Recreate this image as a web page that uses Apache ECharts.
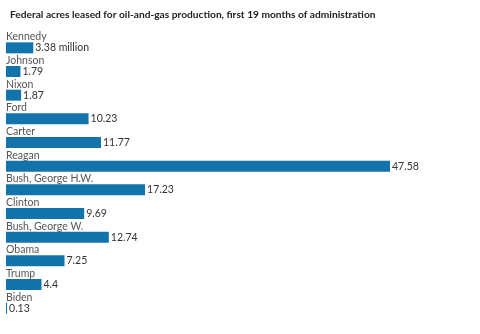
<!DOCTYPE html>
<html><head><meta charset="utf-8">
<script src="https://cdn.jsdelivr.net/npm/echarts@6/dist/echarts.min.js"></script>
<style>html,body{margin:0;padding:0;background:#fff}#c{width:480px;height:334px}</style>
</head><body><div id="c"></div>
<script>
const categories = ["Kennedy","Johnson","Nixon","Ford","Carter","Reagan","Bush, George H.W.","Clinton","Bush, George W.","Obama","Trump","Biden"];
const values = [3.38,1.79,1.87,10.23,11.77,47.58,17.23,9.69,12.74,7.25,4.4,0.13];
const valueLabels = ["3.38 million","1.79","1.87","10.23","11.77","47.58","17.23","9.69","12.74","7.25","4.4","0.13"];
const titleText = "Federal acres leased for oil-and-gas production, first 19 months of administration";

const FONT = "Lato";
const chart = echarts.init(document.getElementById('c'));
chart.setOption({
  animation:false,
  title:{text:titleText,left:5,top:5,textStyle:{fontFamily:FONT,fontSize:10.2,fontWeight:'bold',color:'#222'}},
  grid:{left:6,right:90,top:36,bottom:14},
  xAxis:{type:'value',min:0,max:47.58,show:false},
  yAxis:{type:'category',data:categories,inverse:true,show:false},
  series:[
    {type:'bar',data:values,barWidth:11,itemStyle:{color:'#1274aa'},
     label:{show:true,position:'right',distance:2,fontFamily:FONT,fontSize:10.5,color:'#333',
       formatter:p=>valueLabels[p.dataIndex]}},
    {type:'bar',data:values,barWidth:11,barGap:'-100%',itemStyle:{color:'rgba(0,0,0,0)'},
     label:{show:true,position:[0,-11],fontFamily:FONT,fontSize:10.5,color:'#555',
       formatter:p=>categories[p.dataIndex]}}
  ]
});
</script></body></html>
